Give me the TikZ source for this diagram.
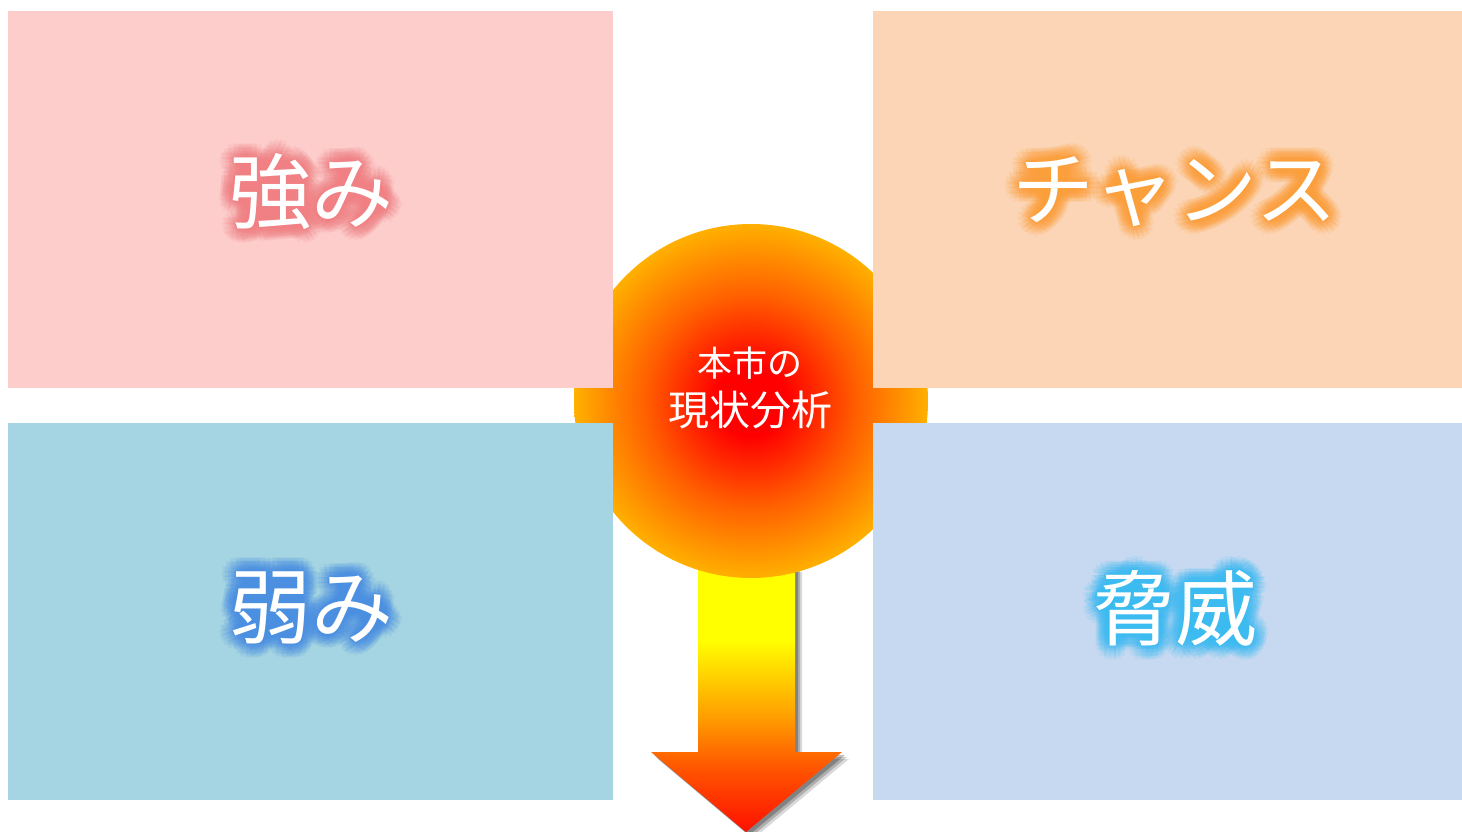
\documentclass[tikz,border=0pt]{standalone}
\usepackage{fontspec}
\newfontfamily\jp{Noto Sans CJK JP}
\definecolor{pinkbox}{HTML}{FDCDCC}
\definecolor{peachbox}{HTML}{FBD5B5}
\definecolor{bluebox}{HTML}{A5D5E2}
\definecolor{lavbox}{HTML}{C6D9F0}
\definecolor{glowpink}{HTML}{F08083}
\definecolor{glowor}{HTML}{FF9F3A}
\definecolor{glowblue}{HTML}{4A8FE0}
\definecolor{glowcyan}{HTML}{3BBBF0}
\definecolor{sunmid}{HTML}{FF6000}
\definecolor{sunedge}{HTML}{FFB000}
\definecolor{arrmid}{HTML}{FF9A00}
\definecolor{arrlow}{HTML}{FF5500}
\definecolor{arrred}{HTML}{FF1000}
\pgfdeclareradialshading{sun}{\pgfpoint{0bp}{0bp}}{color(0bp)=(red); color(5bp)=(red); color(15bp)=(sunmid); color(25bp)=(sunedge); color(50bp)=(sunedge)}
\pgfdeclareverticalshading{arrsh}{100bp}{color(0bp)=(arrred); color(25bp)=(arrred); color(37bp)=(arrlow); color(46bp)=(arrmid); color(61bp)=(yellow); color(75bp)=(yellow); color(100bp)=(yellow)}
\tikzset{
  quad/.style={fill=#1, draw=none},
  big/.style={font=\jp\fontsize{82}{90}\selectfont, text=white, inner sep=0pt},
  center/.style={font=\jp\fontsize{#1}{#1}\selectfont, text=white, inner sep=0pt},
}
\newcommand{\glowtext}[4]{% x y color text
  \foreach \r in {2,5,8,11,14}{
    \foreach \a in {0,22.5,...,337.5}{
      \node[big, text=#3, text opacity=0.12] at ({#1+\r*cos(\a)},{#2+\r*sin(\a)}) {#4};
    }
  }
}
\begin{document}
\begin{tikzpicture}[x=1pt,y=-1pt]
\useasboundingbox (0,0) rectangle (1462,832);
% arrow shadow
\foreach \d/\o in {7/0.15,5/0.2,3/0.25}{
  \fill[black, opacity=\o] (698+\d,565+\d) -- (795+\d,565+\d) -- (795+\d,752+\d) -- (842+\d,752+\d) -- (746+\d,832+\d) -- (651+\d,752+\d) -- (698+\d,752+\d) -- cycle;
}
% arrow
\shade[shading=arrsh] (698,565) -- (795,565) -- (795,752) -- (842,752) -- (746,832) -- (651,752) -- (698,752) -- cycle;
% sun circle
\node[circle, minimum size=354pt, inner sep=0pt, shading=sun] (sun) at (751,401) {};
% quadrants
\fill[quad=pinkbox] (8,11) rectangle (613,388);
\fill[quad=peachbox] (873,11) rectangle (1462,388);
\fill[quad=bluebox] (8,423) rectangle (613,800);
\fill[quad=lavbox] (873,423) rectangle (1462,800);
% glows
\glowtext{311}{192}{glowpink}{強み}
\glowtext{1175}{192}{glowor}{チャンス}
\glowtext{311}{608}{glowblue}{弱み}
\glowtext{1175}{608}{glowcyan}{脅威}
% labels
\node[big] (s) at (311,192) {強み};
\node[big] (o) at (1175,192) {チャンス};
\node[big] (w) at (311,608) {弱み};
\node[big] (t) at (1175,608) {脅威};
\node[center=35] (c1) at (750,363) {本市の};
\node[center=41] (c2) at (750,410) {現状分析};
\end{tikzpicture}
\end{document}
